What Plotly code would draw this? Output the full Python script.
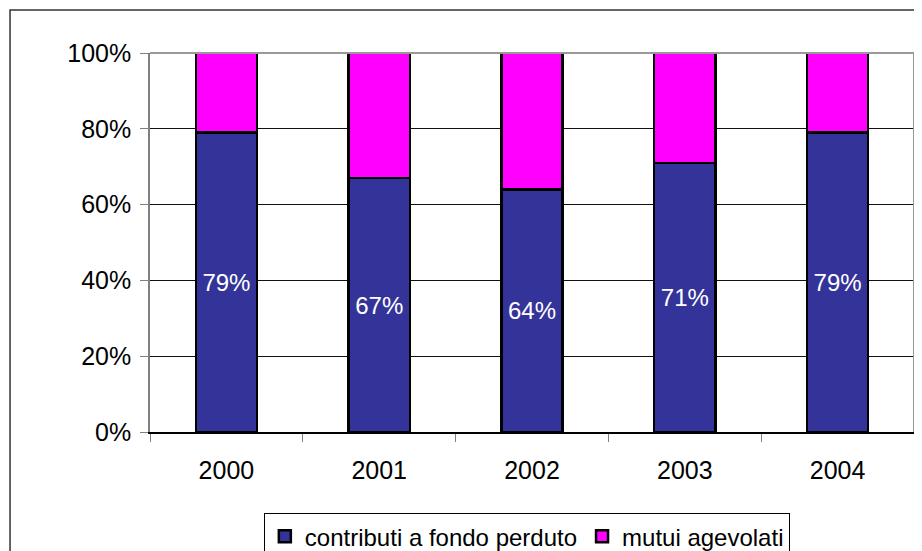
import plotly.graph_objects as go

years = ["2000", "2001", "2002", "2003", "2004"]
contributi = [79, 67, 64, 71, 79]
mutui = [21, 33, 36, 29, 21]
labels = ["79%", "67%", "64%", "71%", "79%"]

font = "Liberation Sans, Arial, sans-serif"

fig = go.Figure()
fig.add_trace(go.Bar(
    x=years, y=contributi, name="contributi a fondo perduto",
    marker=dict(color="#333399", line=dict(color="black", width=2.5)),
    text=labels, textposition="inside", insidetextanchor="middle",
    textfont=dict(color="white", size=24, family=font),
    width=0.4,
))
fig.add_trace(go.Bar(
    x=years, y=mutui, name="mutui agevolati",
    marker=dict(color="#FF00FF", line=dict(color="black", width=2.5)),
    width=0.4, hoverinfo="y",
))

fig.update_layout(
    barmode="stack",
    width=914, height=560,
    margin=dict(l=142, r=8, t=45, b=136),
    paper_bgcolor="white", plot_bgcolor="white",
    font=dict(family=font, size=24, color="black"),
    showlegend=True,
    legend=dict(
        orientation="h", x=0.149, y=-0.214, xanchor="left", yanchor="top",
        bordercolor="black", borderwidth=1, font=dict(size=24, family=font),
        traceorder="normal", itemwidth=30, tracegroupgap=0,
    ),
    uniformtext=dict(mode=False),
)
fig.update_yaxes(
    range=[0, 100], tickvals=[0, 20, 40, 60, 80, 100],
    ticktext=["0%", "20%", "40%", "60%", "80%", "100%"],
    showgrid=True, gridcolor="#111111", gridwidth=1,
    ticks="outside", ticklen=8, tickcolor="#808080",
    showline=True, linecolor="#808080", linewidth=1.5,
    mirror=False, zeroline=False, tickfont=dict(size=25),
    ticklabelstandoff=4,
)
fig.update_xaxes(
    tickson="boundaries", ticks="outside", ticklen=8, tickcolor="#808080",
    showline=True, linecolor="black", linewidth=1.5,
    showgrid=False, tickfont=dict(size=25), ticklabelstandoff=15,
)
# plot area top and right border (grey)
fig.add_shape(type="line", xref="paper", yref="paper", x0=0, x1=1, y0=1, y1=1,
              line=dict(color="#999999", width=2))
fig.add_shape(type="line", xref="paper", yref="paper", x0=1, x1=1, y0=0, y1=1,
              line=dict(color="#999999", width=2))
# outer chart border
fig.add_shape(type="rect", xref="paper", yref="paper",
              x0=-0.1832, x1=1.05, y0=-0.40, y1=1.1135,
              line=dict(color="#333333", width=1.5), layer="below")

fig.write_html("out.html")
